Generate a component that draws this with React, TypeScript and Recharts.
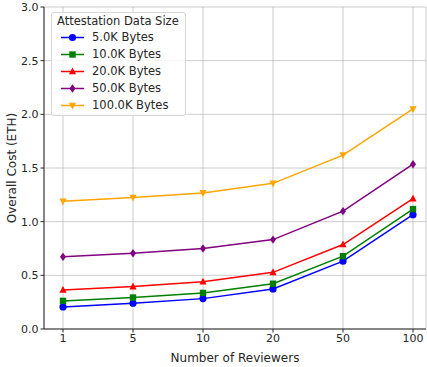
import { LineChart, Line, XAxis, YAxis, CartesianGrid } from 'recharts'

const reviewers = ['1', '5', '10', '20', '50', '100']
const cost5k = [0.206, 0.24, 0.283, 0.373, 0.632, 1.065]
const cost10k = [0.262, 0.293, 0.336, 0.422, 0.679, 1.117]
const cost20k = [0.364, 0.395, 0.441, 0.528, 0.787, 1.215]
const cost50k = [0.672, 0.706, 0.75, 0.833, 1.098, 1.535]
const cost100k = [1.19, 1.225, 1.268, 1.357, 1.62, 2.05]
const yTicks = [0, 0.5, 1, 1.5, 2, 2.5, 3]

const data = reviewers.map((r, i) => ({
  r,
  s5: cost5k[i],
  s10: cost10k[i],
  s20: cost20k[i],
  s50: cost50k[i],
  s100: cost100k[i],
}))

type Marker = 'circle' | 'square' | 'triangle' | 'diamond' | 'triangleDown'

const series: { key: string; label: string; color: string; marker: Marker }[] = [
  { key: 's5', label: '5.0K Bytes', color: '#0000ff', marker: 'circle' },
  { key: 's10', label: '10.0K Bytes', color: '#008000', marker: 'square' },
  { key: 's20', label: '20.0K Bytes', color: '#ff0000', marker: 'triangle' },
  { key: 's50', label: '50.0K Bytes', color: '#800080', marker: 'diamond' },
  { key: 's100', label: '100.0K Bytes', color: '#ffa500', marker: 'triangleDown' },
]

function markerShape(marker: Marker, cx: number, cy: number, color: string, key?: string) {
  const s = 3.6
  switch (marker) {
    case 'circle':
      return <circle key={key} cx={cx} cy={cy} r={s} fill={color} />
    case 'square':
      return <rect key={key} x={cx - s + 0.4} y={cy - s + 0.4} width={2 * s - 0.8} height={2 * s - 0.8} fill={color} />
    case 'triangle':
      return <polygon key={key} points={`${cx},${cy - s - 0.4} ${cx - s},${cy + s - 0.8} ${cx + s},${cy + s - 0.8}`} fill={color} />
    case 'diamond':
      return <polygon key={key} points={`${cx},${cy - s - 0.6} ${cx + s - 0.6},${cy} ${cx},${cy + s + 0.6} ${cx - s + 0.6},${cy}`} fill={color} />
    case 'triangleDown':
      return <polygon key={key} points={`${cx},${cy + s + 0.4} ${cx - s},${cy - s + 0.8} ${cx + s},${cy - s + 0.8}`} fill={color} />
  }
}

const font = 'DejaVu Sans, sans-serif'
const tickStyle = { fontSize: 11, fontFamily: font, fill: '#262626' }

function LegendBox() {
  return (
    <div style={{
      position: 'absolute', left: 51, top: 12,
      background: 'rgba(255,255,255,0.8)', border: '1px solid #d6d6d6', borderRadius: 3,
      padding: '0 6px 1px 5px', fontFamily: font, fontSize: 11.5, color: '#262626', lineHeight: '17px',
    }}>
      <div style={{ lineHeight: '16px' }}>Attestation Data Size</div>
      {series.map(s => (
        <div key={s.key} style={{ display: 'flex', alignItems: 'center', marginLeft: 3 }}>
          <svg width={24} height={17} style={{ flexShrink: 0 }}>
            <line x1={1} y1={8.5} x2={24} y2={8.5} stroke={s.color} strokeWidth={1.5} />
            {markerShape(s.marker, 12.5, 8.5, s.color)}
          </svg>
          <span style={{ marginLeft: 8 }}>{s.label}</span>
        </div>
      ))}
    </div>
  )
}

export default function App() {
  return (
    <div style={{ position: 'absolute', left: 0, top: 0, width: 427, height: 367, background: '#fff' }}>
      <LineChart width={427} height={367} data={data} margin={{ top: 7, right: 1, left: 0, bottom: 0 }}>
        <CartesianGrid stroke="#b0b0b0" strokeWidth={0.8} strokeOpacity={0.8} />
        <XAxis
          dataKey="r"
          padding={{ left: 19, right: 13 }}
          tick={tickStyle}
          tickSize={3.5}
          tickLine={{ stroke: '#262626' }}
          axisLine={{ stroke: '#262626' }}
          height={38}
          interval={0}
          label={{ value: 'Number of Reviewers', position: 'insideBottom', offset: 5, style: { fontSize: 12, fontFamily: font, fill: '#262626' } }}
        />
        <XAxis xAxisId="top" orientation="top" dataKey="r" height={0} tick={false} tickLine={false} axisLine={{ stroke: '#262626' }} />
        <YAxis
          domain={[0, 3]}
          ticks={yTicks}
          tickFormatter={(v: number) => v.toFixed(1)}
          tick={tickStyle}
          tickSize={3.5}
          tickLine={{ stroke: '#262626' }}
          axisLine={{ stroke: '#262626' }}
          width={44}
          interval={0}
          label={{ value: 'Overall Cost (ETH)', angle: -90, position: 'insideLeft', offset: 12, style: { fontSize: 12, fontFamily: font, fill: '#262626', textAnchor: 'middle' } }}
        />
        <YAxis yAxisId="right" orientation="right" width={0} tick={false} tickLine={false} axisLine={{ stroke: '#262626' }} />
        {series.map(s => (
          <Line
            key={s.key}
            type="linear"
            dataKey={s.key}
            name={s.label}
            stroke={s.color}
            strokeWidth={1.5}
            isAnimationActive={false}
            dot={(p: any) => markerShape(s.marker, p.cx, p.cy, s.color, `${s.key}-${p.index}`)}
            activeDot={false}
          />
        ))}
      </LineChart>
      <LegendBox />
    </div>
  )
}
